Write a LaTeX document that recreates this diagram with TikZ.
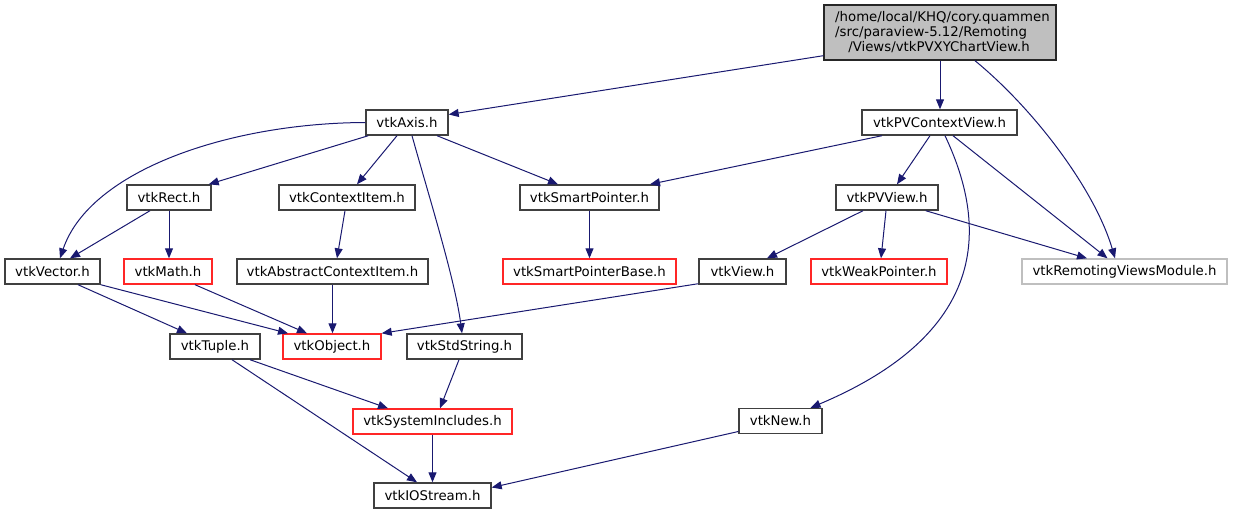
\documentclass[tikz,border=0pt]{standalone}
\usepackage{fontspec}
\setmainfont{DejaVu Sans}
\usetikzlibrary{arrows.meta}
\definecolor{edgeblue}{HTML}{191970}
\definecolor{boxgray}{HTML}{404040}
\definecolor{lightgrayb}{HTML}{BFBFBF}
\begin{document}
\begin{tikzpicture}[x=1pt,y=-1pt,
  every node/.style={font=\fontsize{13.3}{16}\selectfont},
  box/.style={draw=boxgray, line width=1.4pt, fill=white, inner sep=0pt, minimum height=25pt},
  redbox/.style={box, draw=red!85!white, line width=1.4pt},
  graybox/.style={box, draw=lightgrayb, line width=1.4pt},
  edge/.style={draw=edgeblue, line width=1pt, -{Triangle[length=10pt,width=8pt]}},
  txt/.style={inner sep=0pt}]
\useasboundingbox (0,0) rectangle (1233,515);
% top node
\node[box, fill=lightgrayb, draw=black!85, minimum width=232pt, minimum height=55pt] (top) at (940,32.5) {};
\node[txt, anchor=west] (t1) at (835,18) {/home/local/KHQ/cory.quammen};
\node[txt, anchor=west] (t2) at (835,32.5) {/src/paraview-5.12/Remoting};
\node[txt] (t3) at (939,47) {/Views/vtkPVXYChartView.h};
% rank 1
\node[box, minimum width=82pt] (axis) at (407,122.5) {vtkAxis.h};
\node[box, minimum width=155pt] (pvctx) at (939.5,122.5) {vtkPVContextView.h};
% rank 2
\node[box, minimum width=84pt] (rect) at (169,197.5) {vtkRect.h};
\node[box, minimum width=136pt] (ctxitem) at (347,197.5) {vtkContextItem.h};
\node[box, minimum width=139pt] (smart) at (589.5,197.5) {vtkSmartPointer.h};
\node[box, minimum width=102pt] (pvview) at (887,197.5) {vtkPVView.h};
% rank 3
\node[box, minimum width=95pt] (vector) at (52.5,271.5) {vtkVector.h};
\node[redbox, minimum width=88pt] (math) at (168,271.5) {vtkMath.h};
\node[box, minimum width=191pt] (abstract) at (332.5,271.5) {vtkAbstractContextItem.h};
\node[redbox, minimum width=173pt] (spbase) at (589.5,271.5) {vtkSmartPointerBase.h};
\node[box, minimum width=87pt] (view) at (742.5,271.5) {vtkView.h};
\node[redbox, minimum width=136pt] (weak) at (879,271.5) {vtkWeakPointer.h};
\node[graybox, minimum width=205pt] (remoting) at (1124.5,271.5) {vtkRemotingViewsModule.h};
% rank 4
\node[box, minimum width=90pt] (tuple) at (215,346.5) {vtkTuple.h};
\node[redbox, minimum width=98pt] (object) at (332,346.5) {vtkObject.h};
\node[box, minimum width=115pt] (stdstring) at (464.5,346.5) {vtkStdString.h};
% rank 5
\node[redbox, minimum width=159pt] (sysinc) at (432.5,421.5) {vtkSystemIncludes.h};
\node[box, minimum width=83pt] (new) at (780.5,421) {vtkNew.h};
% rank 6
\node[box, minimum width=117pt] (iostream) at (432.5,495.5) {vtkIOStream.h};

% edges
\draw[edge] ([yshift=5pt]top.south west) -- ([yshift=8pt]axis.east);
\draw[edge] (top.south) -- (top.south |- pvctx.north);
\draw[edge] ([xshift=35pt]top.south) .. controls (1035,110) and (1095,190) .. ([xshift=-9.5pt]remoting.north);
\draw[edge] (axis.west) .. controls (230,123) and (90,170) .. ([xshift=7.5pt]vector.north);
\draw[edge] ([xshift=3pt]axis.south west) -- ([xshift=-3pt]rect.north east);
\draw[edge] ([xshift=-10pt]axis.south) -- ([xshift=10pt]ctxitem.north);
\draw[edge] ([xshift=5pt]axis.south) .. controls (430,200) and (455,280) .. ([xshift=-2.5pt]stdstring.north);
\draw[edge] ([xshift=30pt]axis.south) -- ([xshift=-31.5pt]smart.north);
\draw[edge] ([xshift=-57.5pt]pvctx.south) -- ([xshift=60.5pt]smart.north);
\draw[edge] ([xshift=-9.5pt]pvctx.south) -- ([xshift=10pt]pvview.north);
\draw[edge] ([xshift=5.5pt]pvctx.south) .. controls (985,220) and (995,330) .. ([xshift=30pt]new.north);
\draw[edge] ([xshift=13.5pt]pvctx.south) -- ([xshift=-17pt]remoting.north);
\draw[edge] ([xshift=-19pt]rect.south) -- ([xshift=17.5pt]vector.north);
\draw[edge] (rect.south) -- (rect.south |- math.north);
\draw[edge] ([xshift=-2pt]ctxitem.south) -- ([xshift=4.5pt]abstract.north);
\draw[edge] (smart.south) -- (spbase.north);
\draw[edge] ([xshift=-24pt]pvview.south) -- ([xshift=24.5pt]view.north);
\draw[edge] ([xshift=-1pt]pvview.south) -- ([xshift=2pt]weak.north);
\draw[edge] ([xshift=-13pt]pvview.south east) -- ([xshift=-37.5pt]remoting.north);
\draw[edge] ([xshift=25.5pt]vector.south) -- ([xshift=-28pt]tuple.north);
\draw[edge] (vector.south east) -- ([xshift=-44pt]object.north);
\draw[edge] ([xshift=27pt]math.south) -- ([xshift=-25pt]object.north);
\draw[edge] (abstract.south) -- (abstract.south |- object.north);
\draw[edge] ([yshift=1pt]view.south west) -- (object.north east);
\draw[edge] ([xshift=35pt]tuple.south) -- ([xshift=-44.5pt]sysinc.north);
\draw[edge] ([xshift=17pt]tuple.south) -- ([xshift=-15.5pt]iostream.north);
\draw[edge] ([xshift=-5.5pt]stdstring.south) -- ([xshift=7.5pt]sysinc.north);
\draw[edge] (sysinc.south) -- (iostream.north);
\draw[edge] ([yshift=-10.5pt]new.west) -- ([yshift=8pt]iostream.east);
\end{tikzpicture}
\end{document}
